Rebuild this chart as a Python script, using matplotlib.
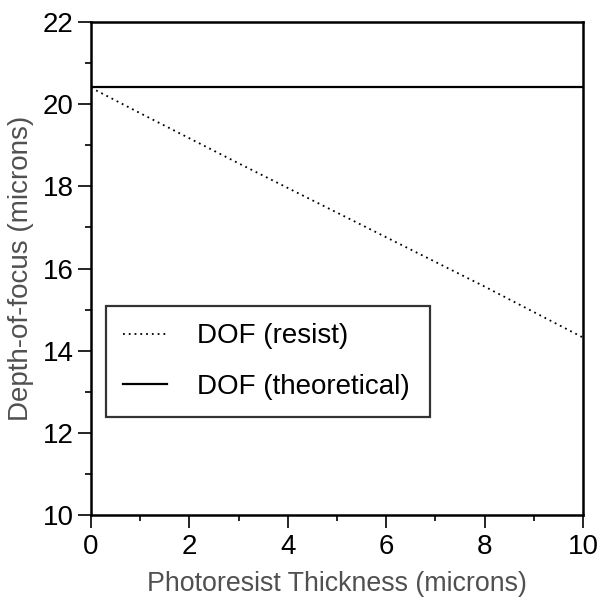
import matplotlib
matplotlib.use("Agg")
import matplotlib.pyplot as plt
from matplotlib.ticker import MultipleLocator

thickness = [0, 1, 2, 3, 4, 5, 6, 7, 8, 9, 10]
dof_resist = [20.40, 19.78, 19.17, 18.56, 17.96, 17.36, 16.76, 16.16, 15.56, 14.94, 14.32]
dof_theoretical = [20.42] * len(thickness)

plt.rcParams['font.family'] = ['Liberation Sans', 'DejaVu Sans']

fig = plt.figure(figsize=(5.97, 6.0), dpi=100)
ax = fig.add_axes([91/597, 85/600, 492/597, 493/600])

ax.plot(thickness, dof_resist, color='black', linestyle=(0, (1, 2.2)), linewidth=1.3,
        label='DOF (resist)')
ax.plot(thickness, dof_theoretical, color='black', linestyle='-', linewidth=1.6,
        label='DOF (theoretical)')

ax.set_xlim(0, 10)
ax.set_ylim(10, 22)
ax.xaxis.set_major_locator(MultipleLocator(2))
ax.xaxis.set_minor_locator(MultipleLocator(1))
ax.yaxis.set_major_locator(MultipleLocator(2))
ax.yaxis.set_minor_locator(MultipleLocator(1))
ax.tick_params(which='both', direction='out', top=False, right=False, width=1.2)
ax.tick_params(which='major', length=9.5, labelsize=20)
ax.tick_params(axis='x', which='major', pad=4.5)
ax.tick_params(axis='y', which='major', pad=3)
ax.tick_params(which='minor', length=4.5)
for s in ax.spines.values():
    s.set_linewidth(1.8)

ax.set_xlabel('Photoresist Thickness (microns)', fontsize=19.3, color='#505050', labelpad=7.5)
ax.set_ylabel('Depth-of-focus (microns)', fontsize=20, color='#505050', labelpad=6)

leg = ax.legend(loc='lower left', bbox_to_anchor=(0.03, 0.199, 0.66, 0.223), mode='expand',
                fontsize=20, frameon=True, fancybox=False, edgecolor='black',
                handlelength=1.6, borderpad=0.62, labelspacing=0.88, handletextpad=1.08,
                borderaxespad=0)
leg.get_frame().set_linewidth(1.6)

fig.savefig('out.png', dpi=100)
